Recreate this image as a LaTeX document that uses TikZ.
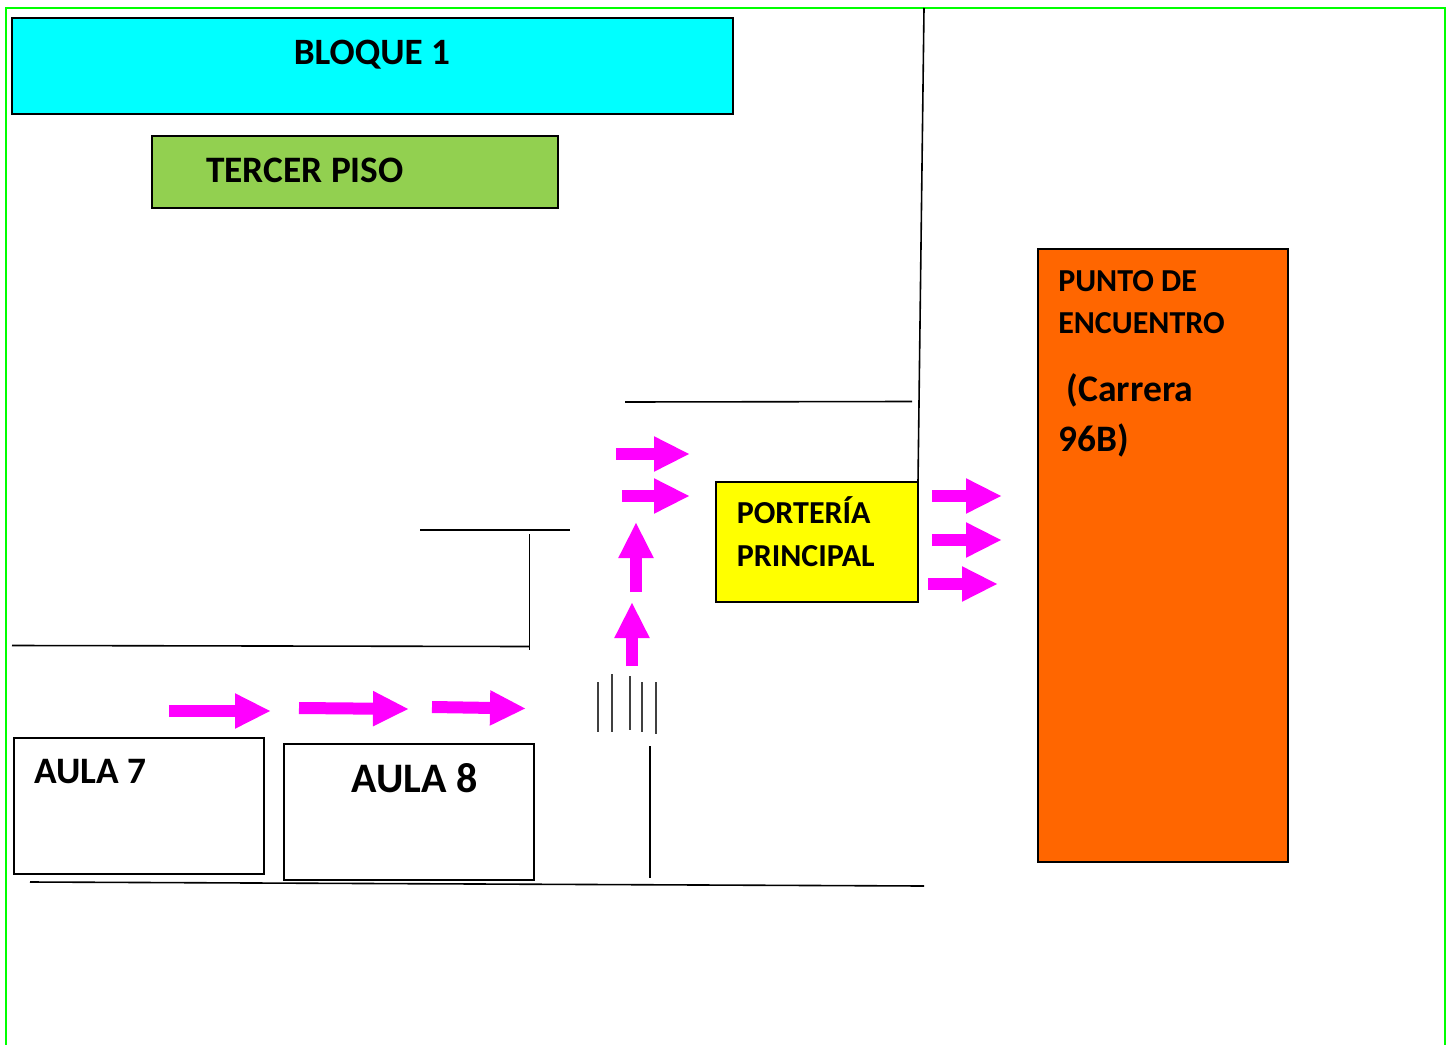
\documentclass[tikz,border=0pt]{standalone}
\usepackage{fontspec}
\setmainfont{Carlito}
\usetikzlibrary{arrows.meta}

\definecolor{bloquecol}{RGB}{0,255,255}
\definecolor{pisocol}{RGB}{146,208,80}
\definecolor{porteriacol}{RGB}{255,255,0}
\definecolor{puntocol}{RGB}{255,102,0}
\definecolor{arrowcol}{RGB}{255,0,255}
\definecolor{bordercol}{RGB}{0,255,0}

\begin{document}
\begin{tikzpicture}[x=0.75pt,y=-0.75pt,
  box/.style={draw,line width=1.5pt,anchor=north west,inner sep=0pt,outer sep=0pt},
  lab/.style={anchor=base west,inner sep=0pt,font=\bfseries\fontsize{#1}{#1}\selectfont},
  wall/.style={line width=1.2pt},
  bar/.style={line width=0.9pt,black!75},
  flecha/.style={arrowcol,line width=9pt,-{Triangle[length=27pt,width=24.5pt]}}]
\useasboundingbox (0,0) rectangle (1452,1045);

% outer border, open at the bottom
\draw [bordercol,line width=1.8pt] (6,1045) -- (6,8) -- (1445,8) -- (1445,1045);

% rooms
\node [box,fill=bloquecol,minimum width=540.75pt,minimum height=72pt] (a) at (12,18) {};
\node [box,fill=pisocol,minimum width=304.5pt,minimum height=54pt] (b) at (152,136) {};
\node [box,fill=porteriacol,minimum width=151.5pt,minimum height=90pt] (c) at (716,482) {};
\node [box,fill=puntocol,minimum width=187.5pt,minimum height=459.75pt] (d) at (1038,249) {};
\node [box,minimum width=187.5pt,minimum height=102pt] (e) at (14,738) {};
\node [box,minimum width=187.5pt,minimum height=102pt] (f) at (284,744) {};

% labels
\node [lab=27.9] (a1) at (293.5,65) {BLOQUE 1};
\node [lab=28] (b1) at (206,182) {TERCER PISO};
\node [lab=24] (c1) at (736.5,523.5) {PORTERÍA};
\node [lab=24] (c2) at (736.5,566) {PRINCIPAL};
\node [lab=24] (d1) at (1058,291.5) {PUNTO DE};
\node [lab=24] (d2) at (1058,333.5) {ENCUENTRO};
\node [lab=28.2] (d3) at (1066.5,401) {(Carrera};
\node [lab=28] (d4) at (1058,451) {96B)};
\node [lab=28] (e1) at (34,783.5) {AULA 7};
\node [lab=31.5] (f1) at (351.5,792.5) {AULA 8};

% walls
\draw [wall] (924,8) -- (c.north east);
\draw [wall] (625,402) -- (912,401.5);
\draw [wall] (420,530) -- (570,530);
\draw [wall] (529.5,534) -- (529.5,650);
\draw [wall] (12,645.5) -- (529.5,646.5);
\draw [wall] (30,882) -- (924,886);
\draw [wall] (650,746) -- (650,878);

% stairs
\draw [bar] (598,682) -- (598,732);
\draw [bar] (612,674) -- (612,732);
\draw [bar] (630,676) -- (630,730);
\draw [bar] (642,682) -- (642,732);
\draw [bar] (656,682) -- (656,734);

% route
\draw [flecha] (169,711) -- (271,711);
\draw [flecha] (299,708) -- (409,709);
\draw [flecha] (432,707) -- (526,708.5);
\draw [flecha] (632,666) -- (632,602);
\draw [flecha] (636,592) -- (636,522);
\draw [flecha] (622,496) -- (690,496);
\draw [flecha] (616,454) -- (690,454);
\draw [flecha] (932,496) -- (1002,496);
\draw [flecha] (932,540) -- (1002,540);
\draw [flecha] (928,584) -- (998,584);
\end{tikzpicture}
\end{document}
